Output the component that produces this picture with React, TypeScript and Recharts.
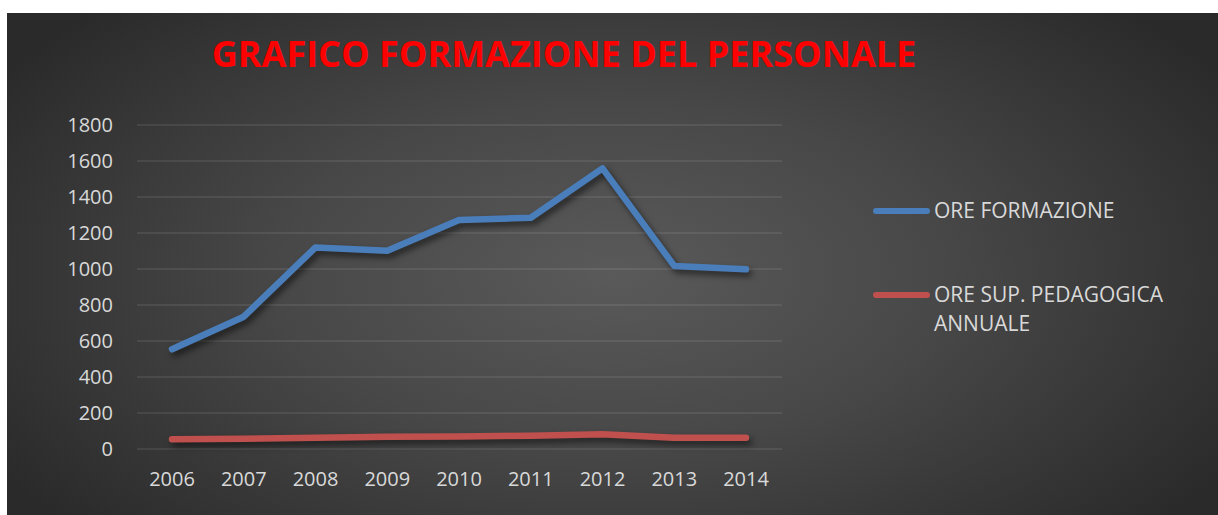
import React from "react";
import { LineChart, Line, XAxis, YAxis, CartesianGrid, Legend } from "recharts";

const years = ["2006", "2007", "2008", "2009", "2010", "2011", "2012", "2013", "2014"];
const oreFormazione = [554, 735, 1120, 1102, 1272, 1285, 1559, 1017, 998];
const oreSupPedagogica = [54, 57, 63, 68, 70, 74, 82, 62, 62];
const yTicks = [0, 200, 400, 600, 800, 1000, 1200, 1400, 1600, 1800];

const data = years.map((year, i) => ({
  year,
  formazione: oreFormazione[i],
  pedagogica: oreSupPedagogica[i],
}));

const FONT = "'Open Sans', sans-serif";
const TEXT = "#d9d9d9";

function LegendContent(props: any) {
  const payload = props.payload || [];
  return (
    <div style={{ fontFamily: FONT, fontSize: 21, color: TEXT }}>
      {payload.map((item: any, i: number) => (
        <div key={i} style={{ display: "flex", alignItems: "flex-start", marginBottom: 55 }}>
          <div
            style={{
              width: 57,
              height: 6,
              borderRadius: 3,
              background: item.color,
              marginTop: 12,
              flexShrink: 0,
            }}
          />
          <div style={{ marginLeft: 4, width: 245, lineHeight: "29px" }}>{item.value}</div>
        </div>
      ))}
    </div>
  );
}

export default function App() {
  return (
    <div
      style={{
        position: "absolute",
        left: 7,
        top: 13,
        width: 1211,
        height: 502,
        background: "radial-gradient(ellipse 60% 75% at 50% 52%, #5a5a5a 0%, #484848 45%, #2a2a2a 100%)",
      }}
    >
      <style>{`.recharts-line-curve { filter: drop-shadow(3px 4px 3px rgba(0,0,0,0.55)); }`}</style>
      <div
        style={{
          position: "absolute",
          left: 0,
          width: 1114,
          top: 23,
          textAlign: "center",
          fontFamily: FONT,
          fontWeight: 700,
          fontSize: 36,
          lineHeight: "36px",
          color: "#ff0000",
        }}
      >
        GRAFICO FORMAZIONE DEL PERSONALE
      </div>
      <LineChart width={1211} height={502} data={data} margin={{ top: 112, right: 436, left: 0, bottom: 0 }}>
        <CartesianGrid vertical={false} stroke="#ffffff" strokeOpacity={0.16} />
        <XAxis
          dataKey="year"
          axisLine={false}
          tickLine={false}
          tickSize={0}
          tickMargin={23}
          height={66}
          padding={{ left: 35, right: 36 }}
          tick={{ fill: TEXT, fontSize: 20, fontFamily: FONT }}
        />
        <YAxis
          domain={[0, 1800]}
          ticks={yTicks}
          axisLine={false}
          tickLine={false}
          tickSize={0}
          tickMargin={24}
          width={130}
          tick={{ fill: TEXT, fontSize: 20, fontFamily: FONT }}
        />
        <Legend
          layout="horizontal"
          align="center"
          verticalAlign="middle"
          content={<LegendContent />}
          wrapperStyle={{ left: 866, top: 183, width: 320 }}
        />
        <Line
          type="linear"
          dataKey="formazione"
          name="ORE FORMAZIONE"
          stroke="#4a7ebb"
          strokeWidth={6.5}
          strokeLinecap="round"
          strokeLinejoin="round"
          dot={false}
          isAnimationActive={false}
        />
        <Line
          type="linear"
          dataKey="pedagogica"
          name="ORE SUP. PEDAGOGICA ANNUALE"
          stroke="#c0504d"
          strokeWidth={6.5}
          strokeLinecap="round"
          strokeLinejoin="round"
          dot={false}
          isAnimationActive={false}
        />
      </LineChart>
    </div>
  );
}
